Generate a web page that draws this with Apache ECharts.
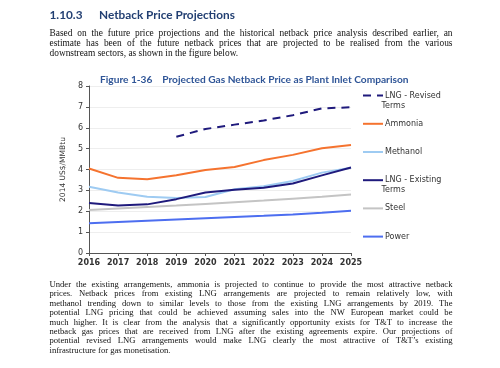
<!DOCTYPE html>
<html><head><meta charset="utf-8">
<script src="https://cdn.jsdelivr.net/npm/echarts@6/dist/echarts.min.js"></script>
<style>html,body{margin:0;padding:0;background:#fff}#c{width:500px;height:368px}</style>
</head><body><div id="c"></div>
<script>
// ---- data ----
const years = ['2016','2017','2018','2019','2020','2021','2022','2023','2024','2025'];
const lngRevised  = [null,null,null,5.57,5.94,6.15,6.35,6.60,6.93,6.98];
const ammonia     = [4.05,3.60,3.53,3.72,3.98,4.12,4.45,4.70,5.02,5.17];
const methanol    = [3.17,2.90,2.70,2.63,2.68,3.05,3.20,3.45,3.85,4.08];
const lngExisting = [2.40,2.28,2.33,2.58,2.90,3.03,3.13,3.33,3.72,4.10];
const steel       = [2.06,2.13,2.20,2.27,2.35,2.43,2.51,2.60,2.69,2.80];
const power       = [1.42,1.48,1.54,1.60,1.66,1.72,1.78,1.85,1.93,2.02];
const seriesNames = ['LNG - Revised Terms','Ammonia','Methanol','LNG - Existing Terms','Steel','Power'];
const legendFirstLine = {'LNG - Revised Terms':'LNG - Revised','LNG - Existing Terms':'LNG - Existing'};

const headingNum = '1.10.3';
const headingText = 'Netback Price Projections';
const figTitle = 'Figure 1-36    Projected Gas Netback Price as Plant Inlet Comparison';
const yAxisName = '2014 US$/MMBtu';
const para1 = [
 'Based on the future price projections and the historical netback price analysis described earlier, an',
 'estimate has been of the future netback prices that are projected to be realised from the various',
 'downstream sectors, as shown in the figure below.'
];
const para2 = [
 'Under the existing arrangements, ammonia is projected to continue to provide the most attractive netback',
 'prices.  Netback prices from existing LNG arrangements are projected to remain relatively low, with',
 'methanol trending down to similar levels to those from the existing LNG arrangements by 2019.  The',
 'potential LNG pricing that could be achieved assuming sales into the NW European market could be',
 'much higher. It is clear from the analysis that a significantly opportunity exists for T&T to increase the',
 'netback gas prices that are received from LNG after the existing agreements expire.  Our projections of',
 'potential revised LNG arrangements would make LNG clearly the most attractive of T&T\u2019s existing',
 'infrastructure for gas monetisation.'
];

// ---- text layout helpers ----
const SERIF = '"Liberation Serif", "Times New Roman", serif';
const SANS_H = 'Lato, "Open Sans", sans-serif';
const ctx = document.createElement('canvas').getContext('2d');
function fitSize(text, weight, family, target) {
  ctx.font = weight + ' 10px ' + family;
  return 10 * target / ctx.measureText(text).width;
}
const X0 = 49.5, X1 = 452.5;
function paraSize(lines, lastTarget, minGap) {
  let s = fitSize(lines[lines.length-1], 'normal', SERIF, lastTarget);
  lines.slice(0, -1).forEach(line => {
    ctx.font = 'normal ' + s + 'px ' + SERIF;
    const words = line.split(/\s+/).filter(w => w.length);
    const w = words.reduce((a, wd) => a + ctx.measureText(wd).width, 0) + minGap * (words.length - 1);
    if (w > X1 - X0) s *= (X1 - X0) / w;
  });
  return s;
}
function justify(lines, y0, lh, size, color) {
  const font = 'normal ' + size + 'px ' + SERIF;
  ctx.font = font;
  const out = [];
  lines.forEach((line, i) => {
    const y = y0 + i * lh;
    const words = line.split(/\s+/).filter(w => w.length);
    const last = i === lines.length - 1;
    if (last) {
      out.push({type:'text', x:X0, y:y, silent:true,
        style:{text:line, font:font, fill:color, align:'left', verticalAlign:'middle'}});
      return;
    }
    const widths = words.map(w => ctx.measureText(w).width);
    const total = widths.reduce((a,b)=>a+b,0);
    const gap = (X1 - X0 - total) / (words.length - 1);
    let x = X0;
    words.forEach((w, k) => {
      out.push({type:'text', x:x, y:y, silent:true,
        style:{text:w, font:font, fill:color, align:'left', verticalAlign:'middle'}});
      x += widths[k] + gap;
    });
  });
  return out;
}

const headColor = '#223f72';
const headSize = fitSize(headingText, 'bold', SANS_H, 136);
const titleSize = fitSize(figTitle, 'bold', SANS_H, 309);
const p1Size = paraSize(para1, 189, 1.2);
const p2Size = paraSize(para2, 121, 1.8);
const legendFont = '8px "DejaVu Sans"';
const graphics = [
  {type:'text', x:49.5, y:15, silent:true, style:{text:headingNum, font:'bold ' + headSize + 'px ' + SANS_H, fill:headColor, verticalAlign:'middle'}},
  {type:'text', x:99, y:15, silent:true, style:{text:headingText, font:'bold ' + headSize + 'px ' + SANS_H, fill:headColor, verticalAlign:'middle'}},
  {type:'text', x:381.5, y:105.5, silent:true, style:{text:'Terms', font:legendFont, fill:'#333', verticalAlign:'middle'}},
  {type:'text', x:381.5, y:189.5, silent:true, style:{text:'Terms', font:legendFont, fill:'#333', verticalAlign:'middle'}}
].concat(justify(para1, 33.5, 10, p1Size, '#111'))
 .concat(justify(para2, 284.8, 9.4, p2Size, '#111'));

const colors = {
  'LNG - Revised Terms':'#1f1a7c','Ammonia':'#f5732f','Methanol':'#9ecbf2',
  'LNG - Existing Terms':'#1f1a7c','Steel':'#c4c4c4','Power':'#4d6ef0'
};
const dataMap = {
  'LNG - Revised Terms':lngRevised,'Ammonia':ammonia,'Methanol':methanol,
  'LNG - Existing Terms':lngExisting,'Steel':steel,'Power':power
};
const drawOrder = ['Power','Steel','Methanol','LNG - Existing Terms','Ammonia','LNG - Revised Terms'];
const series = seriesNames.map(n => ({
  name:n, type:'line', data:dataMap[n], symbol:'none', smooth:false,
  z: 2 + drawOrder.indexOf(n),
  lineStyle:{color:colors[n], width:2, type: n==='LNG - Revised Terms' ? [8,6] : 'solid'},
  itemStyle:{color:colors[n]},
  emphasis:{disabled:true}
}));

const chart = echarts.init(document.getElementById('c'), null, {renderer:'canvas'});
chart.setOption({
  animation:false,
  backgroundColor:'#fff',
  title:{text:figTitle, left:95, top:70, textStyle:{fontFamily:SANS_H, fontSize:titleSize, fontWeight:'bold', color:'#2f5597'}},
  grid:{left:89, right:149, top:86, bottom:115},
  legend:{orient:'vertical', left:357, top:85, itemWidth:20, itemHeight:14, itemGap:17,
    data:seriesNames, selectedMode:false,
    itemStyle:{opacity:0},
    formatter:n => legendFirstLine[n] || n,
    textStyle:{fontFamily:'"DejaVu Sans"', fontSize:8, color:'#333', padding:[0,0,0,-3]}},
  xAxis:{type:'category', data:years, boundaryGap:false,
    axisLine:{lineStyle:{color:'#555', width:1}},
    axisTick:{show:true, length:3, lineStyle:{color:'#555'}},
    axisLabel:{fontFamily:'"DejaVu Sans"', fontSize:8, fontWeight:'bold', color:'#333', margin:6}},
  yAxis:{type:'value', min:0, max:8, interval:1,
    name:yAxisName, nameLocation:'middle', nameGap:17,
    nameTextStyle:{fontFamily:'"DejaVu Sans"', fontSize:7.5, color:'#333'},
    axisLine:{show:true, lineStyle:{color:'#555', width:1}},
    axisTick:{show:true, length:3, lineStyle:{color:'#555'}},
    splitLine:{lineStyle:{color:'#eeeeee'}},
    axisLabel:{fontFamily:'"DejaVu Sans"', fontSize:8, color:'#333', margin:6}},
  series:series,
  graphic:graphics
});
</script></body></html>
